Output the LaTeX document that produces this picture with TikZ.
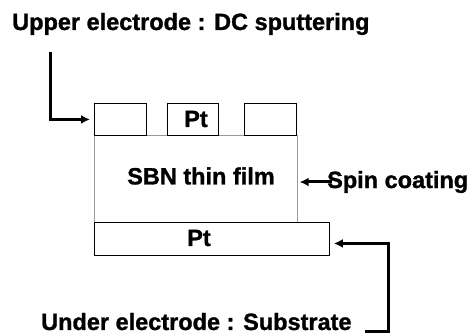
\documentclass[tikz,border=0pt]{standalone}
\usepackage{fontspec}
\setmainfont{Liberation Sans}[BoldFeatures={FakeBold=1.2}]
\usetikzlibrary{arrows.meta}
\begin{document}
\begin{tikzpicture}[x=1pt,y=-1pt,
  lbl/.style={font=\fontsize{23.5}{27}\selectfont\bfseries, inner sep=0pt},
  box/.style={draw=black, line width=0.9pt, anchor=north west, inner sep=0pt},
  arr/.style={line width=3pt, -{Latex[length=9pt,width=9pt]}}]
\useasboundingbox (0,0) rectangle (475,336);
% layers
\node[box, draw=gray!80, line width=0.7pt, minimum width=203pt, minimum height=87pt] (sbn) at (94,135) {};
\node[lbl] at (201,176) {SBN thin film};
\node[box, minimum width=52pt, minimum height=32pt] (e1) at (94,103) {};
\node[box, minimum width=51pt, minimum height=32pt] (e2) at (167,103) {};
\node[lbl] at (196,119) {Pt};
\node[box, minimum width=52pt, minimum height=32pt] (e3) at (244,103) {};
\node[box, minimum width=235pt, minimum height=33pt] (ptb) at (94,222) {};
\node[lbl] at (199,238) {Pt};
% labels
\node[lbl, anchor=base west] (top) at (12,30) {Upper electrode : DC sputtering};
\node[lbl, anchor=base west] (bot) at (41,330) {Under electrode : Substrate};
\node[lbl, anchor=west] (spin) at (327,182) {Spin coating};
% arrows
\coordinate (a1) at (50,52);
\draw[arr, line cap=butt] (a1) |- ([xshift=-4pt]e1.west);
\draw[arr] ([xshift=5pt]spin.west) -- ([xshift=2pt]sbn.east |- spin.west);
\coordinate (b1) at (365,332);
\coordinate (b2) at (388,332);
\draw[arr] (b1) -- (b2) |- ([xshift=4pt,yshift=-4.5pt]ptb.east);
\end{tikzpicture}
\end{document}
